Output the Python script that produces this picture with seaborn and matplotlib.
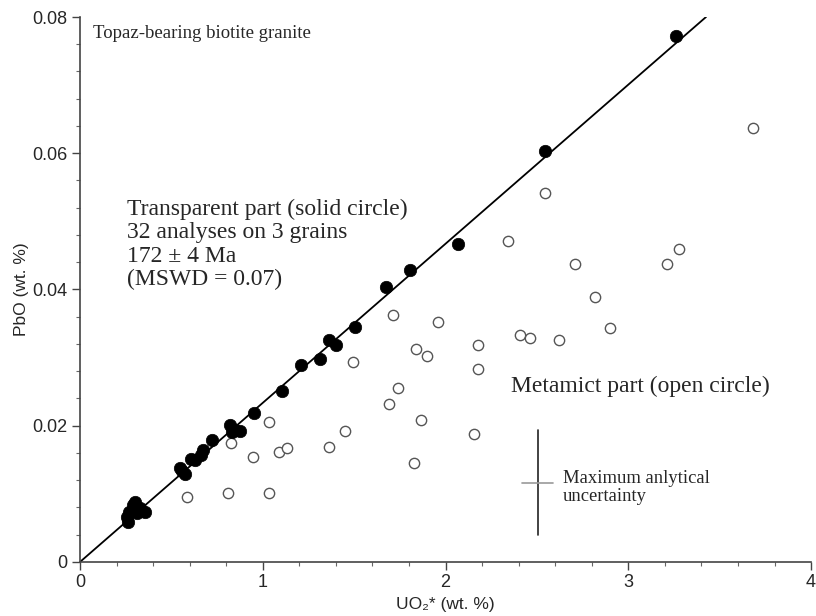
import matplotlib
matplotlib.use("Agg")
import matplotlib.pyplot as plt
import seaborn as sns
import pandas as pd

# transparent part (solid circles)
solid_uo2 = [3.26, 2.545, 2.07, 1.806, 1.674, 1.505, 1.363, 1.40, 1.313, 1.21,
             1.105, 0.952, 0.82, 0.85, 0.875, 0.83, 0.72, 0.675, 0.66, 0.63,
             0.61, 0.55, 0.575, 0.30, 0.27, 0.31, 0.355, 0.265, 0.26, 0.33,
             0.56, 0.29]
solid_pbo = [0.0772, 0.0603, 0.0467, 0.0429, 0.0404, 0.0345, 0.0326, 0.0319, 0.0298, 0.0289,
             0.0251, 0.0219, 0.0201, 0.0194, 0.0193, 0.0191, 0.0179, 0.0164, 0.0157, 0.0150,
             0.0151, 0.0138, 0.0129, 0.0088, 0.0073, 0.0072, 0.0073, 0.0059, 0.0066, 0.0079,
             0.0133, 0.0083]

# metamict part (open circles)
open_uo2 = [3.68, 2.545, 2.34, 2.71, 3.28, 3.21, 2.82, 2.90, 1.71, 1.96,
            2.41, 2.46, 2.62, 1.84, 1.90, 2.18, 2.18, 1.495, 1.74, 1.69,
            1.866, 1.45, 2.156, 1.36, 1.83, 1.034, 0.826, 0.947, 1.09, 1.135,
            0.585, 0.81, 1.034]
open_pbo = [0.0637, 0.0542, 0.0471, 0.0437, 0.0460, 0.0437, 0.0389, 0.0343, 0.0362, 0.0352,
            0.0333, 0.0329, 0.0326, 0.0312, 0.0302, 0.0318, 0.0283, 0.0294, 0.0255, 0.0232,
            0.0208, 0.0192, 0.0188, 0.0169, 0.0145, 0.0206, 0.0175, 0.0154, 0.0161, 0.0167,
            0.0095, 0.0101, 0.0101]

# isochron line
line_uo2 = [0, 3.425]
line_pbo = [0, 0.08]

# maximum analytical uncertainty cross
err_x, err_y = 2.506, 0.0116
err_dx = [2.42, 2.59]
err_dy = [0.0040, 0.0194]

solid = pd.DataFrame({"UO2": solid_uo2, "PbO": solid_pbo})
opens = pd.DataFrame({"UO2": open_uo2, "PbO": open_pbo})

sns.set_style("white")
plt.rcParams["font.family"] = ["Liberation Sans", "DejaVu Sans"]
serif = ["Liberation Serif", "DejaVu Serif"]

fig = plt.figure(figsize=(8.16, 6.16), dpi=100)
ax = fig.add_axes([0.098, 0.0877, 0.896, 0.8847])

ax.plot(line_uo2, line_pbo, color="black", lw=1.3, zorder=1)
sns.scatterplot(data=opens, x="UO2", y="PbO", ax=ax, s=55, marker="o",
                facecolor="white", edgecolor="#555555", linewidth=1.0, zorder=2)
sns.scatterplot(data=solid, x="UO2", y="PbO", ax=ax, s=80, marker="o",
                color="black", edgecolor="black", linewidth=0.5, zorder=3)

ax.plot([err_x, err_x], err_dy, color="#222222", lw=1.2)
ax.plot(err_dx, [err_y, err_y], color="#999999", lw=1.2)

ax.set_xlim(0, 4)
ax.set_ylim(0, 0.08)
ax.set_xticks([0, 1, 2, 3, 4])
ax.set_xticklabels(["0", "1", "2", "3", "4"])
ax.set_yticks([0, 0.02, 0.04, 0.06, 0.08])
ax.set_yticklabels(["0", "0.02", "0.04", "0.06", "0.08"])
ax.set_xticks([i * 0.2 for i in range(21)], minor=True)
ax.set_yticks([i * 0.004 for i in range(21)], minor=True)
ax.tick_params(which="major", direction="out", length=6, width=1, color="#444444",
               labelsize=13, pad=3, bottom=True, left=True)
ax.tick_params(which="minor", direction="out", length=3, width=0.8, color="#666666",
               bottom=True, left=True)
for side in ["top", "right"]:
    ax.spines[side].set_visible(False)
for side in ["left", "bottom"]:
    ax.spines[side].set_color("#444444")
    ax.spines[side].set_linewidth(1.2)

ax.set_xlabel("UO\u2082* (wt. %)", fontsize=12.5)
ax.xaxis.set_label_coords(0.5, -0.064)
ax.set_ylabel("PbO (wt. %)", fontsize=12.5, labelpad=2)

ax.text(0.07, 0.0776, "Topaz-bearing biotite granite", family=serif, fontsize=13.5,
        va="center", ha="left")
ax.text(0.26, 0.0533, "Transparent part (solid circle)\n32 analyses on 3 grains\n"
        "172 \u00b1 4 Ma\n(MSWD = 0.07)", family=serif, fontsize=17,
        va="top", ha="left", linespacing=1.14)
ax.text(2.36, 0.0258, "Metamict part (open circle)", family=serif, fontsize=17,
        va="center", ha="left")
ax.text(2.64, 0.0109, "Maximum anlytical\nuncertainty", family=serif, fontsize=13.4,
        va="center", ha="left", linespacing=1.1)

fig.savefig("out.png", dpi=100)
